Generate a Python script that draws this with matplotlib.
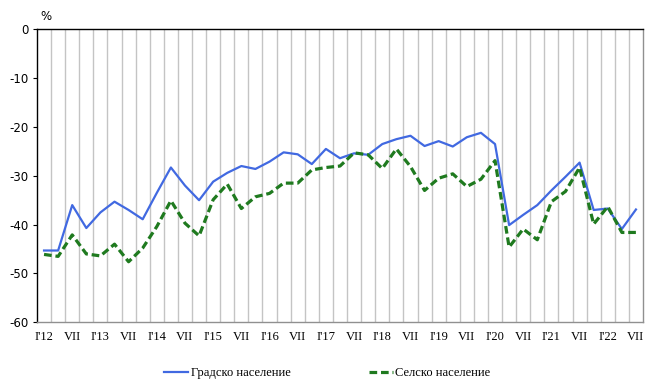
import matplotlib
matplotlib.use("Agg")
import matplotlib.pyplot as plt
import numpy as np

urban = [-45.3, -45.3, -36.0, -40.7, -37.5, -35.3, -37.0, -38.9,
         -33.5, -28.3, -32.0, -35.0, -31.2, -29.4, -28.0, -28.6,
         -27.1, -25.2, -25.6, -27.6, -24.5, -26.4, -25.4, -25.7,
         -23.5, -22.5, -21.8, -23.9, -22.9, -24.0, -22.1, -21.2,
         -23.5, -40.1, -38.0, -36.0, -33.0, -30.2, -27.3, -37.0,
         -36.7, -40.9, -36.9]
rural = [-46.1, -46.5, -42.1, -46.0, -46.4, -44.0, -47.6, -44.8,
         -40.4, -35.1, -39.7, -42.3, -34.9, -31.7, -36.7, -34.3,
         -33.6, -31.5, -31.5, -28.8, -28.3, -28.0, -25.3, -25.7,
         -28.5, -24.5, -28.1, -33.0, -30.5, -29.6, -32.2, -30.7,
         -26.9, -44.6, -40.9, -43.1, -35.3, -33.2, -28.3, -39.9,
         -36.3, -41.6, -41.6]
years = list(range(12, 23))
tick_labels = []
for y in years:
    tick_labels += [f"I'{y}", "VII"]
yticks = [0, -10, -20, -30, -40, -50, -60]
legend_labels = ["Градско население", "Селско население"]

fig = plt.figure(figsize=(6.55, 3.88), dpi=100)
ax = fig.add_axes([37/655, 1-322.3/388, (643-37)/655, (322.3-29.3)/388])

n = len(urban)
x = np.arange(n)
l1, = ax.plot(x, urban, color="#4169E1", lw=1.6, solid_joinstyle="round")
l2, = ax.plot(x, rural, color="#1F7A1F", lw=2.3, linestyle=(0, (2.4, 1.2)))

ax.set_xlim(-0.5, n - 0.5)
ax.set_ylim(-60, 0)
ax.set_xticks(np.arange(0, n, 2))
ax.set_xticklabels(tick_labels[:len(np.arange(0, n, 2))],
                   family="Liberation Serif", fontsize=9)
ax.set_xticks(np.arange(0.5, n - 0.5, 1), minor=True)
ax.grid(True, which="minor", axis="x", color="#C4C4C4", lw=1.0)
ax.tick_params(axis="x", which="both", length=0, pad=6)
ax.set_yticks(yticks)
ax.set_yticklabels([str(v) for v in yticks], family="DejaVu Sans", fontsize=8.5)
ax.tick_params(axis="y", length=3, width=0.8, pad=3)
ax.set_axisbelow(True)

for s in ["left", "top"]:
    ax.spines[s].set_color("black")
    ax.spines[s].set_linewidth(1.0)
for s in ["right", "bottom"]:
    ax.spines[s].set_color("#909090")
    ax.spines[s].set_linewidth(1.0)

fig.text(40/655, 1-17/388, "%", fontsize=8.5, ha="left", va="center")

fig.legend([l1, l2], legend_labels, loc="center", bbox_to_anchor=(0.5, 1-373/388),
           ncol=2, frameon=False, prop={"family": "Liberation Serif", "size": 9},
           handlelength=1.9, handletextpad=0.2, columnspacing=6.3)

fig.savefig("out.png", dpi=100)
